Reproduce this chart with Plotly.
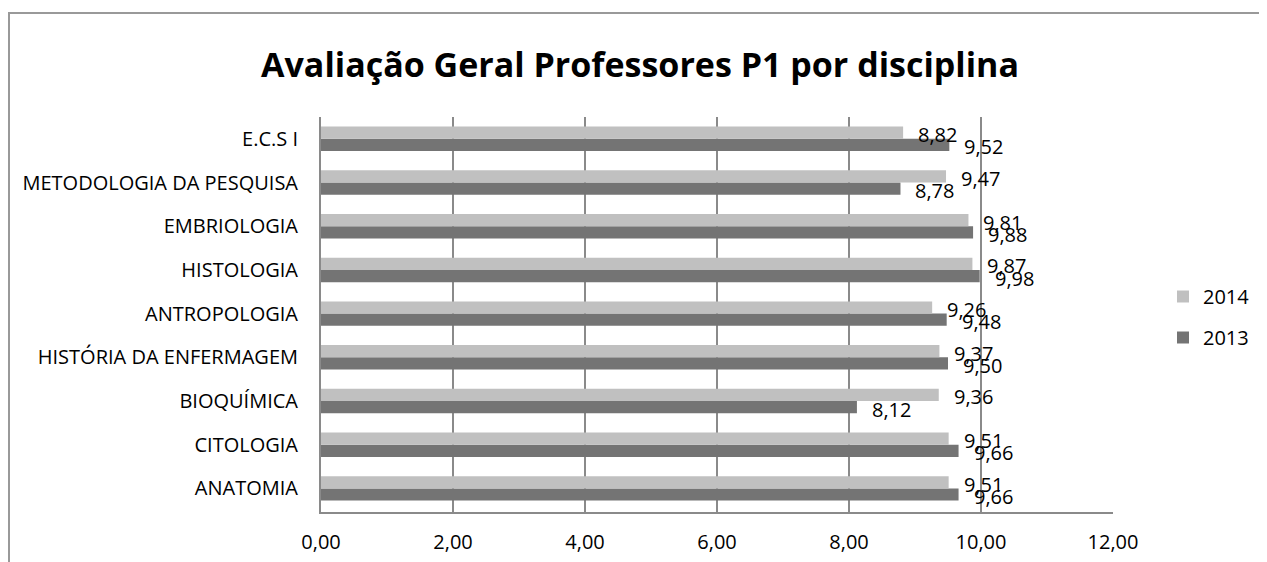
import plotly.graph_objects as go

categories = ["ANATOMIA", "CITOLOGIA", "BIOQUÍMICA", "HISTÓRIA DA ENFERMAGEM",
              "ANTROPOLOGIA", "HISTOLOGIA", "EMBRIOLOGIA",
              "METODOLOGIA DA PESQUISA", "E.C.S I"]
values_2014 = [9.51, 9.51, 9.36, 9.37, 9.26, 9.87, 9.81, 9.47, 8.82]
values_2013 = [9.66, 9.66, 8.12, 9.50, 9.48, 9.98, 9.88, 8.78, 9.52]
x_ticks = [0, 2, 4, 6, 8, 10, 12]

FONT = "Open Sans"
W, H = 1267, 562
OFF = 8  # page body margin
L, R, T, B = 321 - OFF, 1113 - OFF, 117 - OFF, 512 - OFF

fig = go.Figure()
fig.add_trace(go.Bar(y=categories, x=values_2013, orientation="h", name="2013",
                     marker=dict(color="#747474", line=dict(width=0)),
                     legendgroup="g2013", legendrank=2))
fig.add_trace(go.Bar(y=categories, x=values_2014, orientation="h", name="2014",
                     marker=dict(color="#c0c0c0", line=dict(width=0)),
                     legendgroup="g2014", legendrank=1))

bargap = 0.44
half = (1 - bargap) / 4
lab_font = dict(family=FONT, size=20, color="#000")
ann = []
for i, (a, b) in enumerate(zip(values_2014, values_2013)):
    ann.append(dict(x=a, y=i + half, xref="x", yref="y", text=f"{a:.2f}".replace(".", ","),
                    showarrow=False, xanchor="left", yanchor="middle", xshift=13, yshift=-2,
                    font=lab_font))
    ann.append(dict(x=b, y=i - half, xref="x", yref="y", text=f"{b:.2f}".replace(".", ","),
                    showarrow=False, xanchor="left", yanchor="middle", xshift=13, yshift=-2,
                    font=lab_font))

pw, ph = R - L, B - T
def px(x):
    return (x - OFF - L) / pw
def py(y):
    return (B - (y - OFF)) / ph

fig.update_layout(
    width=W, height=H,
    margin=dict(l=L, r=W - R, t=T, b=H - B, autoexpand=False),
    paper_bgcolor="white", plot_bgcolor="white",
    separators=",.",
    barmode="group", bargap=bargap, bargroupgap=0,
    title=dict(text="<b>Avaliação Geral Professores P1 por disciplina</b>",
               x=(640 - OFF) / W, xanchor="center", y=1 - (65 - OFF) / H, yanchor="middle",
               xref="container", yref="container",
               font=dict(family=FONT, size=34, color="#000")),
    font=dict(family=FONT, size=20, color="#000"),
    xaxis=dict(range=[0, 12], tickvals=x_ticks, tickformat=".2f",
               showgrid=True, gridcolor="#8a8a8a", gridwidth=1.5,
               showline=True, linecolor="#8a8a8a", linewidth=2,
               zeroline=False, ticks="", ticklabelstandoff=11,
               tickfont=dict(family=FONT, size=20, color="#000")),
    yaxis=dict(categoryorder="array", categoryarray=categories,
               showline=True, linecolor="#8a8a8a", linewidth=2,
               showgrid=False, zeroline=False, ticks="", ticklabelstandoff=17,
               tickfont=dict(family=FONT, size=20, color="#000")),
    legend=dict(x=px(1163), y=py(277), xanchor="left", yanchor="top",
                traceorder="grouped", tracegroupgap=12,
                font=dict(family=FONT, size=20, color="#000"),
                bgcolor="rgba(0,0,0,0)", itemwidth=30),
    annotations=ann,
    shapes=[dict(type="rect", xref="paper", yref="paper",
                 x0=px(OFF + 1), x1=px(W + 20), y0=py(H + 20), y1=py(13),
                 line=dict(color="#999999", width=2), fillcolor="rgba(0,0,0,0)",
                 layer="below")],
)

fig.write_html("out.html")
